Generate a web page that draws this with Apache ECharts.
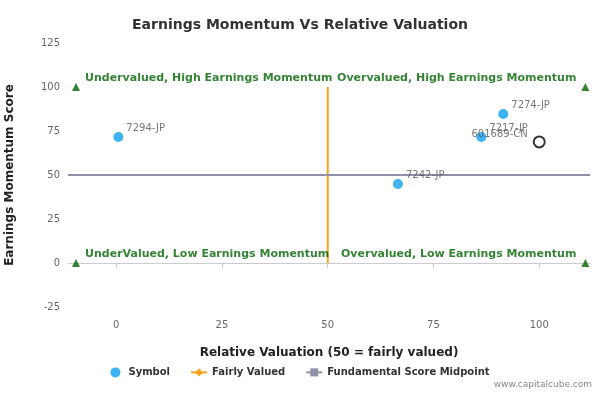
<!DOCTYPE html><html><head><script src="https://cdn.jsdelivr.net/npm/echarts@6/dist/echarts.min.js"></script></head><body style="margin:0"><div id="c" style="width:600px;height:400px"></div><script>
const names=['7294-JP','7242-JP','7274-JP','7217-JP'];
const xs=[0.5,66.6,91.5,86.3];
const ys=[71.6,44.9,84.7,71.6];
const focusName='601689-CN', focusX=100, focusY=68.8;
const xTicks=[0,25,50,75,100];
const yTicks=[-25,0,25,50,75,100,125];
const quadLabels=['Undervalued, High Earnings Momentum','Overvalued, High Earnings Momentum','UnderValued, Low Earnings Momentum','Overvalued, Low Earnings Momentum'];
const XMIN=-11.4,XMAX=112;
const corners=[[-9.5,100,'right'],[110.9,100,'left'],[-9.5,0,'right'],[110.9,0,'left']];
const F='DejaVu Sans';
const ch=echarts.init(document.getElementById('c'));
ch.setOption({
title:{text:'Earnings Momentum Vs Relative Valuation',left:'center',top:6,textStyle:{fontFamily:F,fontSize:14,fontWeight:'bold',color:'#333'}},
grid:{left:68,right:10,top:43,bottom:93,containLabel:false,outerBoundsMode:'none'},
xAxis:{type:'value',min:XMIN,max:XMAX,name:'Relative Valuation (50 = fairly valued)',nameLocation:'middle',nameGap:28,nameTextStyle:{fontFamily:F,fontWeight:'bold',fontSize:12,color:'#222'},splitLine:{show:false},axisLine:{lineStyle:{color:'#ccc'}},axisTick:{customValues:xTicks},axisLabel:{customValues:xTicks,fontFamily:F,fontSize:10,color:'#666'}},
yAxis:{type:'value',min:-25,max:125,interval:25,name:'Earnings Momentum Score',nameLocation:'middle',nameGap:45,nameTextStyle:{fontFamily:F,fontWeight:'bold',fontSize:12,color:'#222'},splitLine:{show:false},axisLine:{show:false},axisTick:{show:false},axisLabel:{fontFamily:F,fontSize:10,color:'#666'}},
legend:{bottom:12,itemGap:20,itemWidth:16,itemHeight:10,textStyle:{fontFamily:F,fontSize:10,fontWeight:'bold',color:'#333'},data:['Symbol','Fairly Valued','Fundamental Score Midpoint']},
series:[
{name:'Symbol',type:'scatter',symbolSize:10,itemStyle:{color:'#0fa0ee'},data:names.map((n,i)=>({value:[xs[i],ys[i]],name:n})),label:{show:true,position:'right',offset:[-2,-9],formatter:p=>p.name,fontFamily:F,fontSize:10,color:'#555'},z:5},
{name:'focus',type:'scatter',symbolSize:11,itemStyle:{color:'#fff',borderColor:'#000',borderWidth:2},data:[{value:[focusX,focusY],name:focusName}],label:{show:true,position:'left',offset:[0,-8],formatter:p=>p.name,fontFamily:F,fontSize:10,color:'#555'},z:6},
{name:'Fairly Valued',type:'line',symbol:'diamond',showSymbol:false,itemStyle:{color:'#f7a21b'},lineStyle:{color:'#f7a21b',width:2},data:[[50,0],[50,100]]},
{name:'Fundamental Score Midpoint',type:'line',symbol:'rect',showSymbol:false,itemStyle:{color:'#8e91a8'},lineStyle:{color:'#8e91a8',width:2},data:[[XMIN,50],[XMAX,50]]},
{name:'q',type:'scatter',symbol:'triangle',symbolSize:8,itemStyle:{color:'#006400'},data:corners.map((c,i)=>({value:[c[0],c[1]],label:{position:c[2],offset:[0,-9],formatter:quadLabels[i]}})),label:{show:true,fontFamily:F,fontSize:11,fontWeight:'bold',color:'#006400'},z:4}
],
graphic:[{type:'text',right:8,bottom:6,style:{text:'www.capitalcube.com',fontFamily:F,fontSize:9,fill:'#888'}}]
});
</script></body></html>
